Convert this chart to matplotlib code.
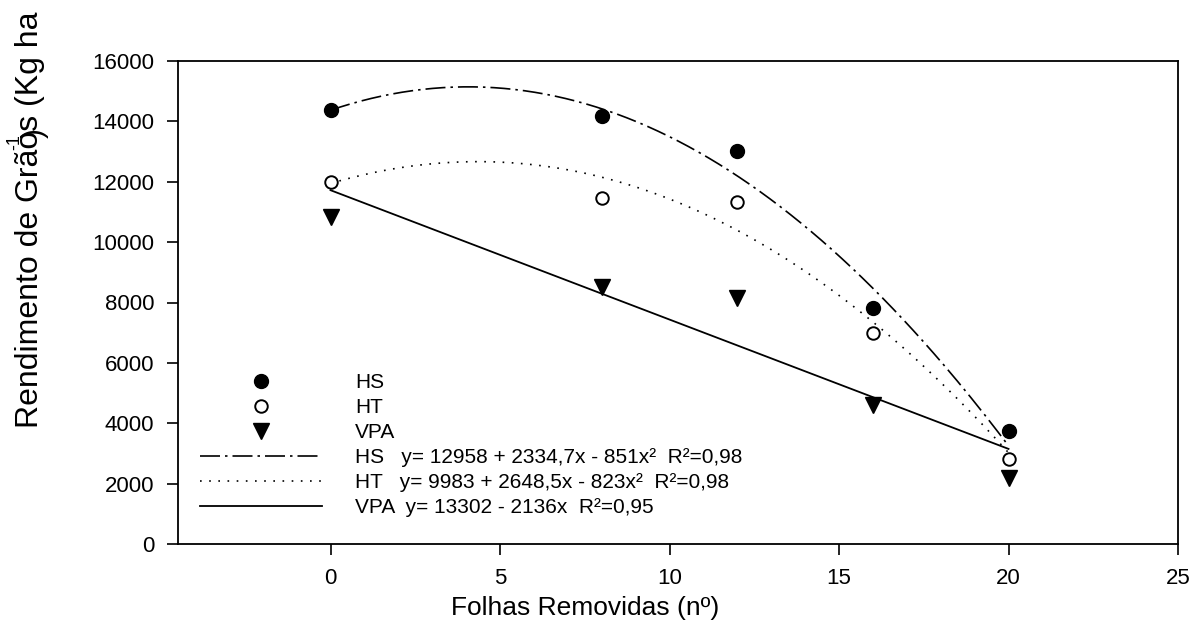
import numpy as np
import matplotlib
matplotlib.use("Agg")
import matplotlib.pyplot as plt
from matplotlib.lines import Line2D

plt.rcParams['font.family'] = ['Liberation Sans', 'DejaVu Sans']

# ---- data ----
folhas = [0, 8, 12, 16, 20]
hs = [14380, 14180, 13030, 7830, 3740]
ht = [12000, 11470, 11340, 6975, 2820]
vpa = [10840, 8530, 8165, 4600, 2180]

# fitted curves
curve_x = [0, 2, 4, 6, 8, 10, 12, 14, 16, 18, 20]
hs_curve = [14400, 14920, 15130, 14950, 14400, 13450, 12350, 10550, 8420, 5900, 3350]
ht_curve = [11950, 12450, 12680, 12550, 12100, 11430, 10400, 9100, 7500, 5050, 3150]
vpa_line_x = [0, 20]
vpa_line = [11720, 3150]

xticks = [0, 5, 10, 15, 20, 25]
yticks = [0, 2000, 4000, 6000, 8000, 10000, 12000, 14000, 16000]

labels = ['HS', 'HT', 'VPA',
          'HS   y= 12958 + 2334,7x - 851x²  R²=0,98',
          'HT   y= 9983 + 2648,5x - 823x²  R²=0,98',
          'VPA  y= 13302 - 2136x  R²=0,95']

W, H = 1195, 622
fig = plt.figure(figsize=(W / 100, H / 100), dpi=100)
ax = fig.add_axes([178 / W, 1 - 544 / H, 1000 / W, 483 / H])

# smooth curves through the read curve values
xs = np.linspace(curve_x[0], curve_x[-1], 200)
hs_fit = np.polyval(np.polyfit(curve_x, hs_curve, 3), xs)
ht_fit = np.polyval(np.polyfit(curve_x, ht_curve, 3), xs)

ls_hs = (0, (12, 3, 1.5, 3))
ls_ht = (0, (1, 4.5))
ax.plot(xs, hs_fit, color='black', lw=1.2, ls=ls_hs)
ax.plot(xs, ht_fit, color='black', lw=1.2, ls=ls_ht)
ax.plot(vpa_line_x, vpa_line, color='black', lw=1.3, ls='-')

ax.plot(folhas, hs, ls='none', marker='o', ms=10, mfc='black', mec='black', zorder=5)
ax.plot(folhas, ht, ls='none', marker='o', ms=9, mfc='white', mec='black', mew=1.4, zorder=5)
ax.plot(folhas, vpa, ls='none', marker='v', ms=11, mfc='black', mec='black', zorder=5)

ax.set_xlim(-4.5, 25)
ax.set_ylim(0, 16000)
ax.set_xticks(xticks)
ax.set_yticks(yticks)
ax.set_xticklabels([str(t) for t in xticks])
ax.set_yticklabels([str(t) for t in yticks])
ax.tick_params(direction='out', length=8, width=1.2, labelsize=16, pad=9, colors='black')
for s in ax.spines.values():
    s.set_linewidth(1.3)

handles = [
    Line2D([], [], ls='none', marker='o', ms=10, mfc='black', mec='black'),
    Line2D([], [], ls='none', marker='o', ms=9, mfc='white', mec='black', mew=1.4),
    Line2D([], [], ls='none', marker='v', ms=11, mfc='black', mec='black'),
    Line2D([], [], color='black', lw=1.2, ls=ls_hs),
    Line2D([], [], color='black', lw=1.2, ls=ls_ht),
    Line2D([], [], color='black', lw=1.3, ls='-'),
]
leg = ax.legend(handles, labels, loc='upper left',
                bbox_to_anchor=(200 / W, 1 - 373 / H), bbox_transform=fig.transFigure,
                frameon=False, fontsize=15, handlelength=5.85, handletextpad=1.6,
                labelspacing=0.29, borderpad=0, borderaxespad=0, numpoints=1)

fig.text(585 / W, 1 - 608 / H, 'Folhas Removidas (nº)', ha='center', va='center', fontsize=19)
fig.text(30 / W, 1 - 428 / H, 'Rendimento de Grãos (Kg ha', rotation=90,
         ha='center', va='bottom', fontsize=23)
fig.text(15 / W, 1 - 142 / H, '-1', rotation=90, ha='center', va='center', fontsize=13)
fig.text(35 / W, 1 - 133 / H, ')', rotation=90, ha='center', va='center', fontsize=21)

fig.savefig('out.png', dpi=100)
